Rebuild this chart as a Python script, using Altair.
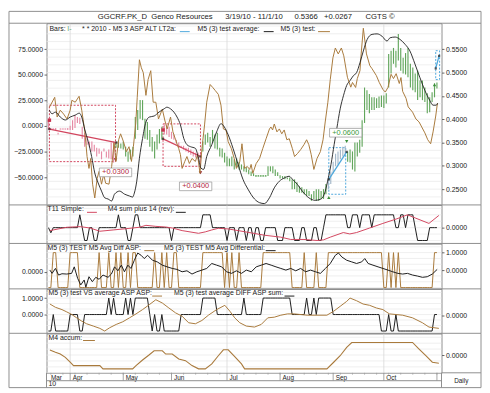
import altair as alt
import pandas as pd

# ---------------------------------------------------------------- data
N_DAYS = 162                      # trading days 3/19/10 .. 11/1/10
day_idx = list(range(N_DAYS))

month_names = ["Mar", "Apr", "May", "Jun", "Jul", "Aug", "Sep", "Oct"]
month_start = [0, 9, 31, 51, 74, 96, 118, 139]
month_dividers = [9, 31, 51, 74, 96, 118, 139, 161]
quarter_lines = [9, 74, 139]
week_ticks = list(range(1, N_DAYS, 5))

bar_high = [0.400, 0.381, 0.379, 0.381, 0.371, 0.379, 0.379, 0.379, 0.381, 0.386,
            0.398, 0.409, 0.405, 0.403, 0.384, 0.371, 0.360, 0.352, 0.352, 0.345,
            0.339, 0.337, 0.331, 0.337, 0.331, 0.335, 0.350, 0.352, 0.352, 0.350,
            0.348, 0.352, 0.341, 0.331, 0.335, 0.341, 0.405, 0.420, 0.441, 0.441,
            0.401, 0.394, 0.377, 0.362, 0.352, 0.367, 0.379, 0.384, 0.388, 0.388,
            0.384, 0.373, 0.367, 0.356, 0.350, 0.343, 0.343, 0.339, 0.339, 0.335,
            0.331, 0.328, 0.328, 0.326, 0.352, 0.367, 0.371, 0.362, 0.377, 0.367,
            0.371, 0.339, 0.337, 0.328, 0.320, 0.316, 0.320, 0.314, 0.316, 0.309,
            0.303, 0.299, 0.297, 0.292, 0.288, 0.284, 0.280, 0.280, 0.280, 0.280,
            0.280, 0.299, 0.299, 0.299, 0.292, 0.286, 0.280, 0.278, 0.278, 0.275,
            0.275, 0.271, 0.271, 0.265, 0.256, 0.254, 0.250, 0.250, 0.246, 0.239,
            0.246, 0.250, 0.250, 0.246, 0.250, 0.261, 0.271, 0.288, 0.309, 0.326,
            0.331, 0.335, 0.341, 0.343, 0.331, 0.335, 0.331, 0.350, 0.350, 0.356,
            0.398, 0.468, 0.462, 0.454, 0.447, 0.447, 0.445, 0.449, 0.451, 0.451,
            0.456, 0.540, 0.547, 0.553, 0.547, 0.583, 0.553, 0.532, 0.542, 0.553,
            0.519, 0.511, 0.498, 0.504, 0.483, 0.483, 0.468, 0.456, 0.447, 0.458,
            0.477, 0.479]
bar_low = [0.377, 0.377, 0.379, 0.377, 0.367, 0.379, 0.379, 0.379, 0.377, 0.377,
           0.377, 0.381, 0.392, 0.390, 0.358, 0.341, 0.345, 0.341, 0.331, 0.331,
           0.320, 0.326, 0.314, 0.331, 0.318, 0.316, 0.314, 0.307, 0.339, 0.339,
           0.337, 0.335, 0.320, 0.309, 0.314, 0.320, 0.358, 0.377, 0.401, 0.398,
           0.358, 0.356, 0.341, 0.331, 0.316, 0.335, 0.348, 0.356, 0.367, 0.367,
           0.362, 0.358, 0.356, 0.348, 0.339, 0.339, 0.335, 0.331, 0.328, 0.324,
           0.320, 0.318, 0.314, 0.299, 0.331, 0.345, 0.350, 0.341, 0.350, 0.337,
           0.335, 0.320, 0.318, 0.307, 0.299, 0.299, 0.299, 0.292, 0.297, 0.292,
           0.292, 0.288, 0.286, 0.282, 0.278, 0.278, 0.278, 0.278, 0.278, 0.278,
           0.278, 0.278, 0.288, 0.284, 0.278, 0.278, 0.273, 0.273, 0.271, 0.271,
           0.267, 0.250, 0.250, 0.244, 0.242, 0.242, 0.239, 0.235, 0.235, 0.225,
           0.229, 0.225, 0.225, 0.229, 0.229, 0.239, 0.250, 0.261, 0.284, 0.299,
           0.303, 0.314, 0.320, 0.326, 0.309, 0.307, 0.292, 0.288, 0.320, 0.328,
           0.341, 0.392, 0.420, 0.413, 0.420, 0.420, 0.424, 0.424, 0.426, 0.424,
           0.434, 0.468, 0.498, 0.519, 0.511, 0.526, 0.504, 0.498, 0.496, 0.490,
           0.468, 0.462, 0.458, 0.441, 0.447, 0.441, 0.437, 0.413, 0.415, 0.437,
           0.447, 0.466]
short_trade_days = [(0, 27), (48, 63)]
long_trade_days = [(116, 123)]

# M5 (3) test (oscillator, left scale)
test_x = [0.4, 2.6, 3.6, 4.9, 6.3, 7.7, 9.0, 9.7, 11.1, 12.7,
          13.8, 15.1, 16.0, 16.8, 17.5, 18.3, 19.2, 20.2, 21.0, 22.0,
          22.9, 23.7, 25.1, 26.2, 27.2, 28.0, 29.1, 29.9, 31.1, 32.3,
          33.4, 34.4, 35.2, 36.2, 36.8, 37.7, 38.5, 39.3, 40.4, 41.3,
          42.4, 43.4, 44.5, 45.6, 47.2, 48.2, 49.2, 50.6, 51.6, 52.7,
          54.0, 54.7, 55.4, 56.5, 57.4, 58.4, 59.5, 60.9, 61.8, 62.8,
          63.6, 64.7, 65.6, 67.0, 68.1, 69.1, 70.4, 71.5, 72.5, 73.6,
          74.5, 75.8, 77.0, 77.9, 79.3, 80.2, 81.3, 82.4, 83.4, 84.0,
          84.7, 86.1, 87.5, 88.8, 90.2, 91.6, 92.2, 92.9, 93.6, 94.7,
          95.7, 96.7, 97.7, 98.8, 99.8, 101.1, 102.0, 103.2, 104.5, 105.9,
          107.0, 107.9, 108.9, 110.0, 111.3, 112.7, 113.8, 114.7, 115.8, 116.8,
          117.9, 118.9, 120.1, 121.4, 122.4, 123.9, 125.3, 126.0, 127.3, 128.0,
          129.1, 129.6, 130.5, 131.8, 133.2, 134.1, 135.9, 137.1, 138.6, 139.6,
          140.7, 142.0, 143.0, 144.1, 145.4, 146.1, 146.8, 148.2, 149.1, 150.9,
          152.3, 153.6, 154.7, 156.0, 157.2, 158.4, 159.4, 160.5, 161.2]
test_y = [18.3, 28.0, 8.7, 15.4, 11.6, 6.8, 15.4, 25.1, 23.2, 29.0,
          15.4, -5.8, -29.9, -41.5, -31.8, -56.9, -70.4, -51.1, -44.4, -56.9,
          -47.3, -56.0, -56.9, -39.6, -16.4, -34.7, -13.5, -7.7, -15.4, -25.1,
          -20.3, -34.7, -20.3, 2.9, 28.0, 64.7, 56.9, 52.1, 29.9, 45.4,
          54.0, 23.2, 23.2, 6.8, 16.4, 5.8, -2.9, 8.7, -5.8, -13.5,
          -22.2, -28.0, -41.5, -34.7, -29.9, -36.7, -31.8, -34.7, -28.0, -46.3,
          -22.2, 1.0, 23.2, 40.5, 37.6, 34.7, 30.9, 20.3, -2.9, -3.9,
          -15.4, -22.2, -31.8, -41.5, -34.7, -17.4, -41.5, -39.6, -42.5, -37.6,
          -46.3, -36.7, -31.8, -22.2, -12.5, -2.9, -1.0, -3.9, 1.9, -5.8,
          -2.9, -7.7, -3.9, -13.5, -12.5, -22.2, -29.9, -27.0, -23.2, -18.3,
          -13.5, -18.3, -28.0, -42.5, -31.8, -25.1, -13.5, 3.9, 23.2, 45.4,
          66.6, 76.2, 70.4, 76.2, 68.5, 47.6, 37.9, 42.5, 37.6, 46.3,
          54.0, 70.4, 95.5, 70.4, 58.9, 56.0, 49.2, 42.5, 35.7, 33.1,
          37.6, 50.5, 46.3, 51.1, 41.5, 47.3, 33.8, 27.0, 18.6, 13.5,
          6.8, 3.9, -1.0, -6.8, -13.5, -17.4, -5.8, 9.7, 22.2]

# M5 (3) test average
avg_x = [0.4, 1.5, 2.9, 4.9, 7.0, 9.0, 11.1, 12.8, 13.8, 15.1,
         16.5, 17.9, 19.2, 20.6, 22.0, 23.3, 24.7, 26.2, 27.4, 29.5,
         31.5, 33.6, 34.9, 35.6, 36.6, 37.7, 39.0, 40.4, 41.8, 43.8,
         45.8, 47.9, 49.1, 50.6, 52.0, 53.3, 54.7, 56.1, 57.4, 58.9,
         60.9, 62.2, 63.2, 64.3, 65.6, 67.7, 69.7, 71.5, 72.9, 74.5,
         76.5, 78.6, 80.6, 82.7, 85.4, 87.5, 89.5, 91.6, 93.6, 95.7,
         97.7, 99.8, 101.1, 103.2, 105.2, 107.9, 110.6, 112.7, 114.3, 115.7,
         117.1, 118.4, 119.5, 120.9, 122.3, 123.6, 125.0, 126.4, 127.7, 129.1,
         130.5, 132.1, 134.1, 136.2, 138.2, 140.3, 141.6, 143.7, 145.7, 147.8,
         149.8, 151.9, 153.9, 156.0, 158.0, 159.4, 160.7, 161.3]
avg_y = [15.4, 11.9, 13.5, 8.7, 5.8, 8.7, 10.6, 12.5, 8.7, -3.9,
         -15.4, -29.9, -46.0, -55.7, -63.7, -70.2, -71.4, -73.3, -66.6, -63.7,
         -66.6, -68.5, -69.5, -65.6, -54.0, -31.6, -12.3, 3.9, 8.7, 9.7,
         13.5, 16.7, 18.3, 16.7, 13.5, 8.7, 1.0, -12.3, -18.3, -20.3,
         -21.9, -31.6, -41.2, -42.5, -29.9, -18.3, -5.8, 2.2, -1.0, -8.7,
         -21.9, -37.6, -52.1, -61.8, -71.4, -75.0, -75.9, -70.2, -60.5, -54.0,
         -50.9, -49.2, -52.1, -57.2, -63.7, -70.2, -72.7, -71.7, -66.9, -54.0,
         -37.6, -18.3, -2.6, 16.7, 29.9, 39.6, 44.4, 49.2, 52.1, 61.8,
         73.3, 84.6, 89.5, 90.0, 87.8, 83.0, 86.2, 86.9, 84.6, 79.8,
         73.3, 60.5, 47.6, 34.7, 25.1, 20.3, 20.3, 22.2]

# trades (2010 - M5 3 ASP ALT LT2a)
trade_kind = ["short", "short", "long", "long"]
box_x1 = [0.4, 47.5, 116.2, 160.5]
box_x2 = [27.8, 63.0, 123.2, 162.1]
box_lo = [0.309, 0.299, 0.239, 0.485]
box_hi = [0.430, 0.390, 0.339, 0.547]
tl_x1 = [0.4, 47.5, 116.2, 160.5]
tl_y1 = [0.379, 0.358, 0.271, 0.509]
tl_x2 = [28.2, 63.0, 123.6, 161.9]
tl_y2 = [0.350, 0.320, 0.330, 0.536]
mark_x = [0.4, 27.8, 47.5, 63.0, 116.2, 123.6, 160.0]
mark_y = [0.398, 0.313, 0.377, 0.285, 0.232, 0.352, 0.474]
mark_kind = ["s_in", "s_out", "s_in", "s_out", "l_in", "l_out", "l_in"]
label_x = [27.8, 61.0, 123.2]
label_y = [0.286, 0.256, 0.371]
label_text = ["+0.0300", "+0.0400", "+0.0600"]
label_kind = ["short", "short", "long"]

# panel 2
t11_x = [0.6, 7.6, 13.2, 17.3, 21.3, 26.8, 32.2, 37.7, 40.4, 44.5,
         48.6, 51.4, 55.4, 62.2, 65.0, 67.7, 70.4, 74.5, 78.6, 84.1,
         89.5, 96.3, 100.4, 105.9, 111.3, 114.0, 116.8, 122.2, 124.9, 127.7,
         133.1, 138.6, 144.1, 148.8, 152.2, 157.7, 161.8]
t11_y = [-0.23, 0.03, 0.08, -0.03, -0.28, -0.18, -0.08, 0.03, 0.18, 0.1,
         0.05, -0.03, -0.23, -0.44, -0.33, -0.18, -0.05, -0.1, -0.23, -0.41,
         -0.59, -0.74, -0.92, -0.92, -1.0, -0.95, -0.74, -0.38, -0.49, -0.38,
         -0.03, 0.33, 0.67, 1.0, 0.74, 0.33, 0.95]
m4sum = [0, -0.4, 0, 0, 0, 0, 0, 0, 0, 0,
         0, 0, 0, 1, 0, -1, -1, 0, 0, -1,
         -1, 0, 0, 0, 0, 0, 0, 0, 0, 1,
         0, 0, 0, -1, -1, 0, 1, 1, 0, 0,
         0, 0, 0, 0, 0, 0, 0, 0, 0, 0,
         0, -1, 0, 0, 0, 0, 0, 0, 0, 0,
         0, 0, 0, 0, 1, 1, 1, 1, 0, 0,
         0, 0, 0, 0, -1, 0, 0, 0, -1, 0,
         0, 0, -1, 0, 0, -1, 0, 0, -1, -1,
         0, 0, 0, 0, 0, -1, -1, -1, 0, 0,
         0, 0, -1, -1, -1, 0, 0, -1, -1, -1,
         0, 0, -1, -1, 0, 1, 1, 1, 1, 1,
         1, 1, 1, 1, 0, 0, 1, 1, 1, 0,
         1, 1, 1, 1, 0, 1, 1, 1, 1, 1,
         1, 1, 1, 1, 0, 0, 1, 1, 0, 1,
         1, 1, 0, -1, -1, -1, -1, -1, 0, 0,
         0, 0]

# panel 3
diff_asp = [-1, -1, 1, 1, -1, -1, -1, -1, -1, 1,
            1, 1, 1, -1, -1, -1, -1, -1, -1, -1,
            -1, 1, -1, -1, -1, 1, -1, -1, 1, -1,
            1, -1, -1, 1, -1, 1, 1, -1, -1, -1,
            -1, -1, -1, -1, 1, -1, -1, 1, -1, 1,
            -1, -1, 1, 1, -1, -1, -1, -1, -1, -1,
            -1, -1, -1, -1, 1, 1, 1, 1, 1, 1,
            1, 1, 1, -1, 1, -1, 1, -1, -1, 1,
            -1, -1, -1, -1, -1, -1, -1, -1, -1, 1,
            1, 1, 1, 1, 1, 1, 1, 1, 1, 1,
            1, -1, -1, -1, -1, -1, 1, -1, -1, -1,
            -1, 1, -1, -1, -1, -1, 1, 1, 1, 1,
            1, 1, 1, 1, 1, 1, 1, 1, 1, 1,
            1, 1, 1, 1, 1, 1, 1, 1, 1, -1,
            -1, 1, -1, 1, -1, 1, -1, -1, -1, -1,
            -1, -1, -1, -1, -1, -1, -1, -1, -1, -1,
            1, 1]
diff_x = [0.6, 1.5, 2.9, 4.2, 5.6, 7.6, 9.6, 10.7, 12.1, 13.4,
          14.8, 15.5, 16.8, 18.2, 19.6, 21.0, 22.6, 24.7, 26.1, 27.4,
          28.8, 30.2, 31.5, 32.9, 34.2, 35.6, 37.0, 38.4, 39.7, 41.1,
          43.1, 45.1, 47.2, 49.2, 51.3, 53.3, 55.4, 57.4, 59.5, 61.5,
          63.6, 65.6, 67.7, 69.7, 71.8, 73.8, 75.9, 77.9, 80.0, 82.0,
          84.1, 86.1, 88.2, 90.2, 92.3, 94.3, 96.3, 98.4, 100.4, 102.5,
          104.5, 106.6, 108.6, 110.7, 112.7, 114.8, 116.8, 118.9, 120.2, 121.6,
          123.6, 125.7, 127.7, 129.8, 131.1, 132.5, 134.5, 136.6, 138.6, 140.7,
          142.7, 144.8, 146.8, 148.8, 150.9, 152.9, 155.0, 157.0, 159.1, 161.1]
diff_y = [0.17, -0.16, 0.34, -0.33, -0.2, -0.23, -0.16, 0.5, -0.66, -1.33,
          -0.83, -1.56, -0.5, -1.0, -0.56, -0.76, -0.33, -0.56, -0.23, 0.5,
          0.1, 0.67, 0.0, 0.67, 0.34, 1.17, 1.9, 1.67, 1.34, 1.67,
          1.17, 1.0, 0.67, 0.5, 0.34, 0.24, 0.0, 0.1, -0.23, 0.0,
          0.17, 0.34, 0.84, 0.67, 0.5, 0.0, -0.16, 0.1, -0.16, 0.17,
          0.0, 0.5, 0.67, 0.84, 0.67, 0.5, 0.34, 0.17, 0.34, 0.1,
          0.34, 0.0, 0.17, 0.0, -0.16, 0.34, 0.84, 1.67, 1.9, 1.5,
          1.17, 1.0, 0.84, 1.0, 1.34, 0.84, 0.67, 0.5, 0.34, 0.17,
          0.0, -0.16, -0.23, -0.16, -0.33, -0.43, -0.56, -0.5, -0.23, 0.24]

# panel 4
vs_asp_x = [0.6, 2.9, 5.6, 7.6, 9.7, 11.7, 13.8, 15.8, 18.6, 21.3,
            23.3, 25.4, 28.1, 30.8, 33.6, 36.3, 39.0, 41.8, 44.5, 47.2,
            49.9, 52.7, 55.4, 58.1, 60.9, 63.6, 66.3, 69.7, 73.1, 75.2,
            77.2, 79.3, 82.0, 85.4, 88.2, 90.9, 93.6, 96.3, 99.1, 101.8,
            107.2, 115.4, 118.2, 120.9, 123.6, 125.0, 127.7, 130.4, 133.1, 135.9,
            138.6, 141.3, 144.1, 146.8, 150.9, 155.0, 157.7, 161.8]
vs_asp_y = [0.7, 0.5, 0.36, 0.22, 0.06, -0.14, -0.34, -0.5, -0.64, -0.78,
            -0.94, -0.74, -0.54, -0.38, -0.14, 0.1, 0.36, 0.66, 0.96, 0.76,
            0.46, 0.16, -0.04, -0.44, -0.5, -0.3, 0.02, 0.36, 0.62, 0.26,
            -0.14, -0.44, -0.64, -0.7, -0.54, -0.14, -0.1, 0.02, 0.1, 0.1,
            0.02, 0.02, 0.26, 0.56, 0.86, 1.06, 0.9, 0.7, 0.62, 0.46,
            0.36, 0.1, 0.06, 0.02, -0.14, -0.44, -0.7, -0.78]
diff_sum = [-1, -1, 0, -1, -1, -1, -1, -1, -1, 0,
            0, 0, 0, -1, -1, 0, 0, 0, 0, 0,
            0, 0, 0, 0, 0, 1, 0, 1, 0, 0,
            0, 0, 1, 0, 1, 0, 1, 1, 1, 1,
            1, 1, 0, -1, 0, -1, -1, 0, -1, -1,
            -1, -1, -1, -1, -1, 0, 0, 0, 0, 0,
            0, 0, 0, 0, 1, 1, 1, 1, 1, 1,
            0, 0, 0, 0, 0, 0, 0, 0, 0, 0,
            0, 1, 0, 0, 0, 0, 0, 0, 0, 1,
            1, 1, 1, 1, 1, 1, 1, 1, 1, 1,
            1, 0, 0, 0, 0, 0, 0, 1, 0, 0,
            1, 0, 1, 1, 1, 1, 1, 1, 0, 0,
            0, 0, 0, 0, 0, 0, 0, 0, 0, 0,
            0, 0, 0, 0, 0, 0, 0, 0, -1, -1,
            -1, 0, -1, -1, 0, -1, -1, -1, -1, -1,
            -1, -1, -1, -1, -1, -1, -1, -1, -1, -1,
            0, 0]

# panel 5
accum_x = [0.6, 2.9, 4.9, 7.0, 9.0, 10.4, 21.3, 22.6, 34.9, 36.3,
           39.0, 41.8, 43.8, 47.2, 48.6, 51.3, 54.0, 56.8, 59.5, 62.2,
           65.0, 67.7, 70.4, 72.5, 74.5, 77.2, 80.0, 81.3, 115.4, 118.2,
           120.9, 123.6, 125.7, 150.9, 153.6, 156.4, 159.1, 161.8]
accum_y = [0.5, 0.27, 0.1, -0.23, -0.73, -1.07, -1.07, -1.4, -1.4, -1.07,
           -0.5, 0.03, 0.43, 0.43, 0.1, 0.1, -0.4, -0.57, -1.07, -1.4,
           -1.4, -0.9, -0.07, 0.53, 0.53, -0.17, -0.9, -1.4, -1.4, -0.73,
           -0.07, 0.77, 1.27, 1.27, 0.6, -0.07, -0.73, -0.83]

price_ticks = [0.25, 0.30, 0.35, 0.40, 0.45, 0.50, 0.55]
osc_ticks = [-50, -25, 0, 25, 50, 75]
title_parts = ["GGCRF.PK_D", "Genco Resources", "3/19/10 - 11/1/10", "0.5366", "+0.0267", "CGTS ©"]

# ---------------------------------------------------------------- style
FONT = "Liberation Sans"
W = 400
H1, H2, H3, H4, H5 = 184, 39, 46, 45, 40
XDOM = [-0.8, 162.9]
PRICE_DOM = [0.2161, 0.606]
OSC_DOM = [-77.2, 100.4]
BROWN = "#a97a3c"
BLACK = "#1c1c1c"
GREEN = "#62a65c"
PINK = "#e58aa4"
RED = "#d2465f"
BLUE = "#4ea8dc"
GRID = "#e7e7e7"
QGRID = "#d9d9d9"
FRAME = "#8e8e8e"
TXT = "#222222"


def X(field, axis=None):
    return alt.X(f"{field}:Q", scale=alt.Scale(domain=XDOM, nice=False, zero=False), axis=axis)


def Y(field, dom, axis=None):
    return alt.Y(f"{field}:Q", scale=alt.Scale(domain=dom, nice=False, zero=False), axis=axis)


def ax(orient, values, **kw):
    return alt.Axis(orient=orient, values=values, format=".4f", tickSize=2.5, labelPadding=1.5,
                    grid=False, domain=False, labelFont=FONT, labelFontSize=7, labelColor=TXT,
                    tickColor="#666", labelFlush=False, labelOverlap=False, title=None, **kw)


def px_rules(rows, color=FRAME, width=1):
    df = pd.DataFrame(rows, columns=["x", "x2", "y", "y2"])
    return alt.Chart(df).mark_rule(color=color, strokeWidth=width).encode(
        x=alt.X("x:Q", scale=None, axis=None), x2="x2:Q",
        y=alt.Y("y:Q", scale=None, axis=None), y2="y2:Q")


def px_texts(rows, size=7, align="left"):
    df = pd.DataFrame(rows, columns=["x", "y", "t", "c"])
    return alt.Chart(df).mark_text(align=align, baseline="middle", font=FONT, fontSize=size).encode(
        x=alt.X("x:Q", scale=None, axis=None), y=alt.Y("y:Q", scale=None, axis=None),
        text="t:N", color=alt.Color("c:N", scale=None, legend=None))


def swatches(rows):
    df = pd.DataFrame(rows, columns=["x", "x2", "y", "c"])
    return alt.Chart(df).mark_rule(strokeWidth=1).encode(
        x=alt.X("x:Q", scale=None, axis=None), x2="x2:Q",
        y=alt.Y("y:Q", scale=None, axis=None),
        color=alt.Color("c:N", scale=None, legend=None))


def hgrid(values, dom):
    return alt.Chart(pd.DataFrame({"v": values})).mark_rule(color=GRID, strokeWidth=0.7).encode(
        y=Y("v", dom), x=alt.value(0), x2=alt.value(W))


def qgrid(h):
    return alt.Chart(pd.DataFrame({"q": quarter_lines})).mark_rule(color=QGRID, strokeWidth=0.8).encode(
        x=X("q"), y=alt.value(0), y2=alt.value(h))


def side_frame(h, top=0, bottom=None):
    b = h if bottom is None else bottom
    return px_rules([(-38, 440, 0, 0), (-38, -38, top, b), (440, 440, top, b)])


def panel(layers, h):
    return alt.layer(*layers).resolve_scale(
        x="independent", y="independent", color="independent", shape="independent"
    ).properties(width=W, height=h)


# ---------------------------------------------------------------- main panel
def kind_of(i):
    if any(a <= i <= b for a, b in short_trade_days):
        return "short"
    if any(a <= i <= b for a, b in long_trade_days):
        return "long"
    return "normal"


bars_df = pd.DataFrame({"d": day_idx, "hi": bar_high, "lo": bar_low,
                        "k": [kind_of(i) for i in day_idx]})
bar_color = alt.Color("k:N", scale=alt.Scale(domain=["normal", "short", "long"],
                                             range=[GREEN, PINK, "#a3b7c9"]), legend=None)
trade_color = alt.Scale(domain=["short", "long"], range=[RED, BLUE])

main_grid = [round(0.25 + k / 60, 4) for k in range(-2, 22)]

m_grid = hgrid(main_grid, PRICE_DOM)
m_q = qgrid(H1)
m_boxes = alt.Chart(pd.DataFrame({"x1": box_x1, "x2": box_x2, "lo": box_lo, "hi": box_hi, "k": trade_kind})
                    ).mark_rect(filled=False, strokeDash=[2, 1.5], strokeWidth=1).encode(
    x=X("x1"), x2="x2:Q", y=Y("lo", PRICE_DOM), y2="hi:Q",
    color=alt.Color("k:N", scale=trade_color, legend=None))
m_bars = alt.Chart(bars_df).mark_rule(strokeWidth=1.15).encode(
    x=X("d"), y=Y("hi", PRICE_DOM, ax("right", price_ticks)), y2="lo:Q", color=bar_color)
m_flat = alt.Chart(bars_df).transform_filter("datum.hi - datum.lo < 0.003").mark_square(size=3).encode(
    x=X("d"), y=Y("lo", PRICE_DOM), color=bar_color)
m_tlines = alt.Chart(pd.DataFrame({"x1": tl_x1, "y1": tl_y1, "x2": tl_x2, "y2": tl_y2, "k": trade_kind})
                     ).mark_rule(strokeWidth=1.3).encode(
    x=X("x1"), x2="x2:Q", y=Y("y1", PRICE_DOM), y2="y2:Q",
    color=alt.Color("k:N", scale=trade_color, legend=None))
m_ends = alt.Chart(pd.DataFrame({"x": tl_x1 + tl_x2, "y": tl_y1 + tl_y2})).mark_square(
    size=5, color=BLACK).encode(x=X("x"), y=Y("y", PRICE_DOM))
m_marks = alt.Chart(pd.DataFrame({"x": mark_x, "y": mark_y, "k": mark_kind})).mark_point(
    filled=True, size=12, opacity=1).encode(
    x=X("x"), y=Y("y", PRICE_DOM),
    shape=alt.Shape("k:N", scale=alt.Scale(domain=["s_in", "s_out", "l_in", "l_out"],
                                           range=["square", "triangle-down", "triangle-up", "triangle-down"]),
                    legend=None),
    color=alt.Color("k:N", scale=alt.Scale(domain=["s_in", "s_out", "l_in", "l_out"],
                                           range=["#c8304c", "#8e1426", "#3a8f3a", "#3a8f3a"]), legend=None))
m_test = alt.Chart(pd.DataFrame({"x": test_x, "y": test_y})).mark_line(
    color=BROWN, strokeWidth=1).encode(x=X("x"), y=Y("y", OSC_DOM, ax("left", osc_ticks)))
m_avg = alt.Chart(pd.DataFrame({"x": avg_x, "y": avg_y})).mark_line(
    color=BLACK, strokeWidth=0.9, interpolate="monotone").encode(x=X("x"), y=Y("y", OSC_DOM))
lab_df = pd.DataFrame({"cx": label_x, "cy": label_y, "t": label_text, "k": label_kind})
m_labbox = alt.Chart(lab_df).transform_calculate(
    xa="datum.cx - 6.7", xb="datum.cx + 6.7", ya="datum.cy - 0.0093", yb="datum.cy + 0.0093"
).mark_rect(fill="white", stroke="#a0a0a0", strokeWidth=0.8).encode(
    x=X("xa"), x2="xb:Q", y=Y("ya", PRICE_DOM), y2="yb:Q")
m_labtxt = alt.Chart(lab_df).mark_text(font=FONT, fontSize=7.5, baseline="middle").encode(
    x=X("cx"), y=Y("cy", PRICE_DOM), text="t:N",
    color=alt.Color("k:N", scale=alt.Scale(domain=["short", "long"], range=["#b3263c", "#3a9a3a"]),
                    legend=None))
m_title = px_texts([(52, -6.5, title_parts[0], TXT), (106, -6.5, title_parts[1], TXT),
                    (181, -6.5, title_parts[2], TXT), (251, -6.5, title_parts[3], TXT),
                    (281, -6.5, title_parts[4], TXT), (323, -6.5, title_parts[5], TXT)], size=7.8)
m_legend = px_texts([(3, 5.5, "Bars:", TXT), (21, 5.5, "I-", GREEN),
                     (36, 5.5, "* * 2010 - M5 3 ASP ALT LT2a:", TXT),
                     (153, 5.5, "M5 (3) test average:", TXT), (237, 5.5, "M5 (3) test:", TXT)])
m_sw = swatches([(135, 145, 8.5, BLUE), (220, 230, 8.5, BLACK), (275, 287, 8.5, BROWN)])
m_frame = px_rules([(-38, 440, -12, -12), (-38, 440, 0, 0), (-38, -38, -12, H1), (440, 440, -12, H1)])

main = panel([m_grid, m_q, m_boxes, m_bars, m_flat, m_tlines, m_ends, m_marks, m_test, m_avg,
              m_labbox, m_labtxt, m_title, m_legend, m_sw, m_frame], H1)

# ---------------------------------------------------------------- panel 2
P2_DOM = [-1.23, 1.77]
p2 = panel([
    hgrid([-1.0, -0.5, 0.0, 0.5, 1.0, 1.5], P2_DOM), qgrid(H2),
    alt.Chart(pd.DataFrame({"x": day_idx, "y": m4sum})).mark_line(color=BLACK, strokeWidth=1).encode(
        x=X("x"), y=Y("y", P2_DOM, ax("right", [0]))),
    alt.Chart(pd.DataFrame({"x": t11_x, "y": t11_y})).mark_line(color=RED, strokeWidth=1).encode(
        x=X("x"), y=Y("y", P2_DOM)),
    px_texts([(1, 4.5, "T11 Simple:", TXT), (62, 4.5, "M4 sum plus 14 (rev):", TXT)]),
    swatches([(41, 51, 7.5, RED), (131, 141, 7.5, BLACK)]),
    side_frame(H2),
], H2)

# ---------------------------------------------------------------- panel 3
P3R = [-1.073, 1.525]
P3L = [-1.73, 2.87]
p3 = panel([
    hgrid([-1.0, -2 / 3, -1 / 3, 0.0, 1 / 3, 2 / 3, 1.0, 4 / 3], P3R), qgrid(H3),
    alt.Chart(pd.DataFrame({"x": day_idx, "y": diff_asp})).mark_line(color=BROWN, strokeWidth=1).encode(
        x=X("x"), y=Y("y", P3R, ax("right", [0, 1]))),
    alt.Chart(pd.DataFrame({"x": diff_x, "y": diff_y})).mark_line(color=BLACK, strokeWidth=1).encode(
        x=X("x"), y=Y("y", P3L, ax("left", [0]))),
    px_texts([(1, 4.3, "M5 (3) TEST M5 Avg Diff ASP:", TXT),
              (119, 4.3, "M5 (3) TEST M5 Avg Differential:", TXT)]),
    swatches([(99, 109, 7.3, BROWN), (222, 232, 7.3, BLACK)]),
    side_frame(H3),
], H3)

# ---------------------------------------------------------------- panel 4
P4L = [-1.138, 1.557]
P4R = [-1.08, 1.62]
p4 = panel([
    hgrid([-1.0, -2 / 3, -1 / 3, 0.0, 1 / 3, 2 / 3, 1.0, 4 / 3], P4L), qgrid(H4),
    alt.Chart(pd.DataFrame({"x": day_idx, "y": diff_sum})).mark_line(color=BLACK, strokeWidth=1).encode(
        x=X("x"), y=Y("y", P4L, ax("left", [0, 1]))),
    alt.Chart(pd.DataFrame({"x": vs_asp_x, "y": vs_asp_y})).mark_line(color=BROWN, strokeWidth=1).encode(
        x=X("x"), y=Y("y", P4R, ax("right", [0]))),
    px_texts([(2, 4.3, "M5 (3) test VS average ASP ASP:", TXT),
              (129, 4.3, "M5 (3) test average DIFF ASP sum:", TXT)]),
    swatches([(107, 117, 7.3, BROWN), (241, 251, 7.3, BLACK)]),
    side_frame(H4),
], H4)

# ---------------------------------------------------------------- panel 5 + time axis
P5_DOM = [-1.8, 2.2]
label_expr = " : ".join(f"datum.value == {v} ? '{n}'" for v, n in zip(month_start, month_names)) + " : ''"
month_axis = alt.Axis(orient="bottom", values=month_start, labelExpr=label_expr, tickSize=0,
                      labelPadding=1.5, labelAlign="left", labelBaseline="top", labelOffset=2,
                      labelFlush=False, labelOverlap=False, labelFont=FONT, labelFontSize=6.5,
                      labelColor=TXT, domain=False, grid=False, title=None)
p5 = panel([
    hgrid([-1.8, -1.2, -0.6, 0.0, 0.6, 1.2, 1.8], P5_DOM), qgrid(H5),
    alt.Chart(pd.DataFrame({"x": accum_x, "y": accum_y})).mark_line(color=BROWN, strokeWidth=1.1).encode(
        x=X("x", month_axis), y=Y("y", P5_DOM, ax("right", [0]))),
    alt.Chart(pd.DataFrame({"m": month_dividers})).mark_rule(color=FRAME, strokeWidth=0.8).encode(
        x=X("m"), y=alt.value(H5), y2=alt.value(H5 + 8)),
    alt.Chart(pd.DataFrame({"w": week_ticks})).mark_rule(color="#999", strokeWidth=0.6).encode(
        x=X("w"), y=alt.value(H5), y2=alt.value(H5 + 2)),
    px_texts([(2, 4.3, "M4 accum:", TXT), (2, H5 + 11.8, "10", TXT)]),
    px_texts([(420, H5 + 8, "Daily", TXT)], size=6.5, align="center"),
    swatches([(37, 49, 7.3, BROWN)]),
    px_rules([(-38, 440, 0, 0), (-38, -38, 0, H5 + 15), (440, 440, 0, H5 + 15),
              (0, 0, H5, H5 + 15), (400, 400, H5, H5 + 15), (-38, 440, H5 + 15, H5 + 15),
              (0, 400, H5 + 8, H5 + 8), (400, 440, H5, H5)]),
], H5)

chart = alt.vconcat(main, p2, p3, p4, p5, spacing=0, bounds="flush").configure_view(
    stroke=FRAME, strokeWidth=1).properties(padding=0, background="white")

chart.save("out.html", embed_options={"renderer": "svg", "actions": False})
